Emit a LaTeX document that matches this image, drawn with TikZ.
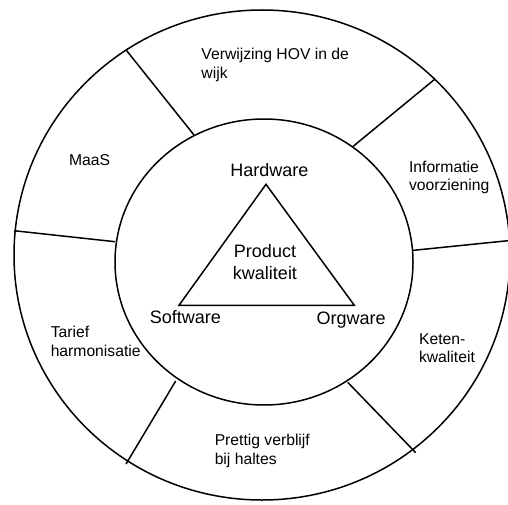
\documentclass[tikz,border=0pt]{standalone}
\usepackage{fontspec}
\setmainfont{Liberation Sans}
\usetikzlibrary{calc}

\tikzset{
  veld/.style={font=\fontsize{15.7}{18.6}\selectfont, align=left, anchor=base west, inner sep=0pt},
  kern/.style={font=\fontsize{18}{21.7}\selectfont, align=center, anchor=base, inner sep=0pt},
}

\begin{document}
\begin{tikzpicture}[x=1pt,y=-1pt,line width=1.5pt]
		\useasboundingbox (0,0) rectangle (508,505);
		\clip (0,0) rectangle (508,505);
		\draw (262,255) ellipse [x radius=248, y radius=245]; %buitenring
		\draw (264,262) ellipse [x radius=149, y radius=143]; %binnenring
		% scheidingslijnen
		\coordinate (b1)at(126.7,50.7);  \coordinate (i1)at(194,135);
		\coordinate (b2)at(435,79);      \coordinate (i2)at(352.7,146.7);
		\coordinate (b3)at(509,240.6);   \coordinate (i3)at(412.7,250.4);
		\coordinate (b4)at(14,230.7);    \coordinate (i4)at(115,241.7);
		\coordinate (b5)at(126,464);     \coordinate (i5)at(175.7,381);
		\coordinate (b6)at(415.7,452.7); \coordinate (i6)at(347.7,382.3);
		\foreach \k in {1,...,6}
			\draw (b\k)--(i\k);
		% driehoek
		\coordinate (H)at(266,184.3);
		\coordinate (S)at(179,305.3);
		\coordinate (O)at(354.3,305.3);
		\draw[line join=miter] (H)--(O)--(S)--cycle;
		\node[kern] (hw) at (269.5,176) {Hardware};
		\node[kern] (sw) at (185.3,323.3) {Software};
		\node[kern] (ow) at (351.2,324.3) {Orgware};
		\node[kern] (pk) at (265,279.3) {Product\\kwaliteit}; %basis = laatste regel
		% velden
		\node[veld] (hov) at (200.7,78.3) {Verwijzing HOV in de\\wijk};
		\node[veld] (info) at (408.3,190.7) {Informatie\\voorziening};
		\node[veld] (keten) at (418.3,362.7) {Keten-\\kwaliteit};
		\node[veld] (halte) at (214,464.3) {Prettig verblijf\\bij haltes};
		\node[veld] (tarief) at (50,356) {Tarief\\harmonisatie};
		\node[veld] (maas) at (68.3,165) {MaaS};
	\end{tikzpicture}
\end{document}
